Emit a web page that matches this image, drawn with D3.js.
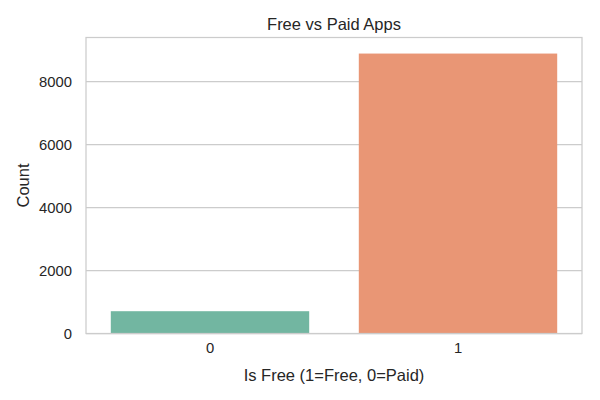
<!DOCTYPE html>
<html>
<head>
<meta charset="utf-8">
<script src="https://cdn.jsdelivr.net/npm/d3@7"></script>
<style>
  body { margin: 0; background: #fff; }
  text { font-family: "Liberation Sans", Arial, sans-serif; fill: #262626; }
</style>
</head>
<body>
<div id="chart"></div>
<script>
// data
const categories = ["0", "1"];
const counts = [708, 8890];
const barColors = ["#72b6a1", "#e99675"];
const yTicks = [0, 2000, 4000, 6000, 8000];

// dimensions
const W = 600, H = 400;
const margin = { top: 37.5, right: 18, bottom: 66.5, left: 86 };
const width = W - margin.left - margin.right,
  height = H - margin.top - margin.bottom;

const svg = d3.select("#chart").append("svg")
  .attr("width", W).attr("height", H);

const g = svg.append("g")
  .attr("transform", `translate(${margin.left},${margin.top})`);

const x = d3.scaleBand().domain(categories).range([0, width]).paddingInner(0.2).paddingOuter(0.1);
const y = d3.scaleLinear().domain([0, 9400]).range([height, 0]);

// grid lines
g.selectAll(".grid").data(yTicks).enter().append("line")
  .attr("x1", 0).attr("x2", width)
  .attr("y1", d => y(d)).attr("y2", d => y(d))
  .attr("stroke", "#cccccc").attr("stroke-width", 1.25);

// bars
g.selectAll(".bar").data(counts).enter().append("rect")
  .attr("x", (d, i) => x(categories[i]))
  .attr("width", x.bandwidth())
  .attr("y", d => y(d))
  .attr("height", d => height - y(d))
  .attr("fill", (d, i) => barColors[i]);

// frame
g.append("rect")
  .attr("width", width).attr("height", height)
  .attr("fill", "none").attr("stroke", "#cccccc").attr("stroke-width", 1.25);

// y axis labels
const yAxis = g.append("g").call(d3.axisLeft(y).tickValues(yTicks).tickFormat(d3.format("d")).tickSize(0).tickPadding(14));
yAxis.select(".domain").remove();
yAxis.selectAll("text").attr("font-size", 14.8).style("font-family", "Liberation Sans, Arial, sans-serif").attr("fill", "#262626");

// x axis labels
const xAxis = g.append("g").attr("transform", `translate(0,${height})`)
  .call(d3.axisBottom(x).tickSize(0).tickPadding(9));
xAxis.select(".domain").remove();
xAxis.selectAll("text").attr("font-size", 14.8).style("font-family", "Liberation Sans, Arial, sans-serif").attr("fill", "#262626");

// titles
svg.append("text").attr("x", margin.left + width / 2).attr("y", 30)
  .attr("text-anchor", "middle").attr("font-size", 16.5).text("Free vs Paid Apps");

svg.append("text").attr("x", margin.left + width / 2).attr("y", 381)
  .attr("text-anchor", "middle").attr("font-size", 16.5).text("Is Free (1=Free, 0=Paid)");

svg.append("text")
  .attr("transform", `translate(29,${margin.top + height / 2}) rotate(-90)`)
  .attr("text-anchor", "middle").attr("font-size", 16.5).text("Count");
</script>
</body>
</html>
